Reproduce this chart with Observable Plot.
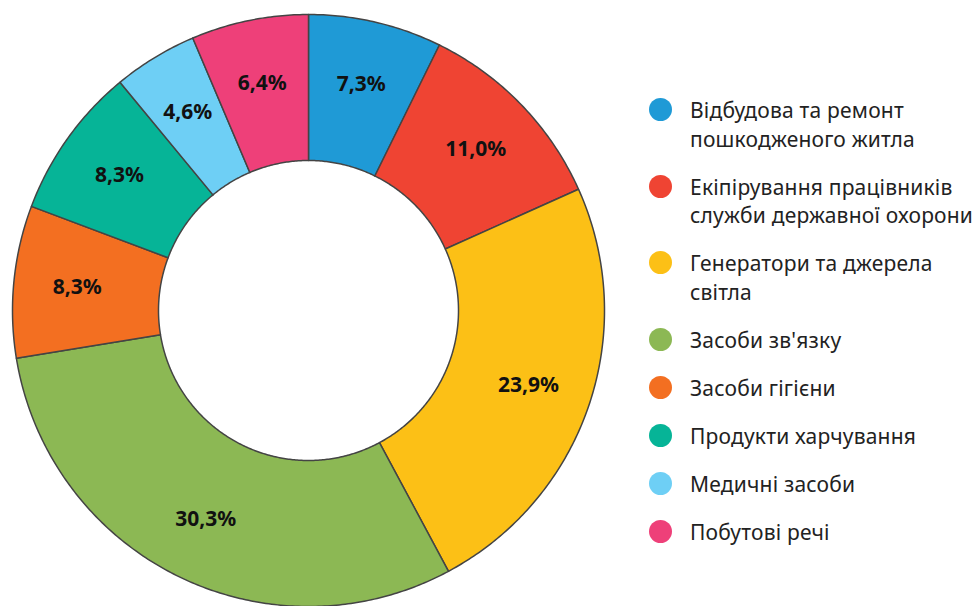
<!DOCTYPE html>
<html><head><meta charset="utf-8">
<script src="https://cdn.jsdelivr.net/npm/d3@7"></script>
<script src="https://cdn.jsdelivr.net/npm/@observablehq/plot@0.6"></script>
<style>
html,body{margin:0;padding:0;background:#fff;}
#wrap{position:relative;width:980px;height:606px;overflow:hidden;font-family:"Noto Sans",sans-serif;}
#chart{position:absolute;left:0;top:0;}
#legend{position:absolute;left:649px;top:96px;}
.item{display:flex;align-items:flex-start;margin-bottom:19.5px;}
.sw{width:23px;height:23px;border-radius:50%;margin-top:2px;margin-right:18px;flex:none;}
.lab{font-size:21px;line-height:28.5px;color:#222;white-space:pre;letter-spacing:0.2px;}
</style></head>
<body><div id="wrap"><div id="chart"></div><div id="legend"></div></div>
<script>
const categories = [
  "Відбудова та ремонт\nпошкодженого житла",
  "Екіпірування працівників\nслужби державної охорони",
  "Генератори та джерела\nсвітла",
  "Засоби зв'язку",
  "Засоби гігієни",
  "Продукти харчування",
  "Медичні засоби",
  "Побутові речі"
];
const values = [7.3, 11.0, 23.9, 30.3, 8.3, 8.3, 4.6, 6.4];
const colors = ["#1f9ad6", "#ef4433", "#fcc016", "#8cb854", "#f36f21", "#06b497", "#6ecff5", "#ee4079"];

const inner = 150 / 296;
const labelR = 0.785;
const arcs = d3.pie().sort(null).value(d => d)(values);

const poly = [];
const labels = [];
arcs.forEach((a, i) => {
  const cat = categories[i];
  const n = Math.max(8, Math.ceil((a.endAngle - a.startAngle) / 0.01));
  for (let k = 0; k <= n; k++) {
    const t = a.startAngle + (a.endAngle - a.startAngle) * k / n;
    poly.push({cat, x: Math.sin(t), y: Math.cos(t)});
  }
  for (let k = n; k >= 0; k--) {
    const t = a.startAngle + (a.endAngle - a.startAngle) * k / n;
    poly.push({cat, x: inner * Math.sin(t), y: inner * Math.cos(t)});
  }
  const m = (a.startAngle + a.endAngle) / 2;
  labels.push({x: labelR * Math.sin(m), y: labelR * Math.cos(m), text: values[i].toFixed(1).replace(".", ",") + "%"});
});

const chart = Plot.plot({
  width: 980, height: 606, margin: 0,
  style: {fontFamily: "'Noto Sans', sans-serif", background: "transparent"},
  x: {domain: [-1, 1], range: [12, 604], axis: null},
  y: {domain: [-1, 1], range: [606, 14], axis: null},
  color: {domain: categories, range: colors},
  marks: [
    Plot.line(poly, {x: "x", y: "y", z: "cat", fill: "cat", stroke: "#444", strokeWidth: 1.5, curve: "linear-closed"}),
    Plot.text(labels, {x: "x", y: "y", text: "text", fontSize: 21, fontWeight: "bold", fill: "#111"})
  ]
});
document.getElementById("chart").appendChild(chart);

const leg = document.getElementById("legend");
categories.forEach((c, i) => {
  const it = document.createElement("div"); it.className = "item";
  const sw = document.createElement("div"); sw.className = "sw"; sw.style.background = colors[i];
  const lb = document.createElement("div"); lb.className = "lab"; lb.textContent = c;
  it.appendChild(sw); it.appendChild(lb); leg.appendChild(it);
});
</script></body></html>
